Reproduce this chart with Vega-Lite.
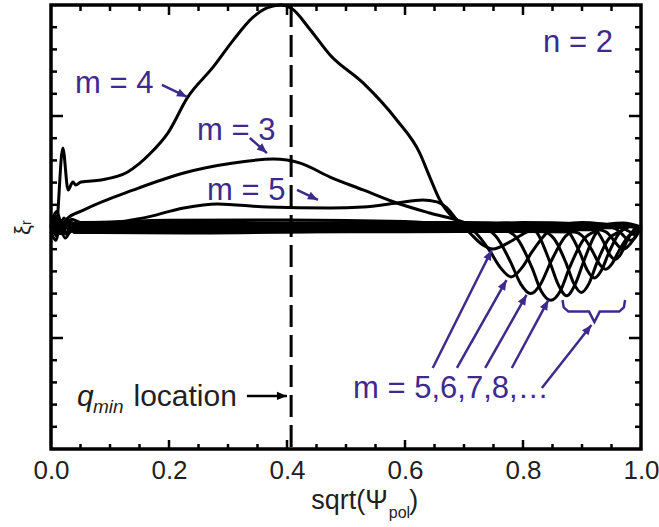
{
"$schema": "https://vega.github.io/schema/vega-lite/v6.json",
"width": 590, "height": 444,
"autosize": {"type": "none"},
"padding": {"left": 51, "top": 5, "right": 18, "bottom": 78},
"background": "white",
"config": {"view": {"stroke": "#000", "strokeWidth": 3.5}, "font": "Liberation Sans", "axis": {"grid": false, "domain": false, "ticks": false, "title": null, "labels": false}},
"datasets": {
"curves": [
{"m":"4","x":0,"y":0},{"m":"4","x":0.008,"y":-0.02},{"m":"4","x":0.02,"y":0.356},{"m":"4","x":0.029,"y":0.167},{"m":"4","x":0.037,"y":0.203},{"m":"4","x":0.042,"y":0.189},{"m":"4","x":0.051,"y":0.203},{"m":"4","x":0.085,"y":0.212},{"m":"4","x":0.13,"y":0.248},{"m":"4","x":0.169,"y":0.333},{"m":"4","x":0.198,"y":0.423},{"m":"4","x":0.232,"y":0.586},{"m":"4","x":0.275,"y":0.721},{"m":"4","x":0.309,"y":0.842},{"m":"4","x":0.343,"y":0.946},{"m":"4","x":0.367,"y":0.988},{"m":"4","x":0.389,"y":1.0},{"m":"4","x":0.408,"y":0.984},{"m":"4","x":0.439,"y":0.89},{"m":"4","x":0.473,"y":0.775},{"m":"4","x":0.529,"y":0.649},{"m":"4","x":0.586,"y":0.482},{"m":"4","x":0.625,"y":0.333},{"m":"4","x":0.642,"y":0.225},{"m":"4","x":0.659,"y":0.122},{"m":"4","x":0.681,"y":0.045},{"m":"4","x":0.698,"y":0.018},{"m":"4","x":0.718,"y":0.003},{"m":"4","x":0.8,"y":0.005},{"m":"4","x":0.9,"y":0.008},{"m":"4","x":1,"y":0},
{"m":"3","x":0,"y":0},{"m":"3","x":0.008,"y":0.04},{"m":"3","x":0.016,"y":-0.02},{"m":"3","x":0.025,"y":0.032},{"m":"3","x":0.056,"y":0.077},{"m":"3","x":0.14,"y":0.167},{"m":"3","x":0.225,"y":0.243},{"m":"3","x":0.309,"y":0.288},{"m":"3","x":0.377,"y":0.306},{"m":"3","x":0.4225,"y":0.288},{"m":"3","x":0.473,"y":0.225},{"m":"3","x":0.529,"y":0.167},{"m":"3","x":0.586,"y":0.108},{"m":"3","x":0.642,"y":0.063},{"m":"3","x":0.698,"y":0.023},{"m":"3","x":0.732,"y":-0.014},{"m":"3","x":0.76,"y":-0.02},{"m":"3","x":0.794,"y":-0.01},{"m":"3","x":0.85,"y":0},{"m":"3","x":0.95,"y":0.005},{"m":"3","x":1,"y":0},
{"m":"5","x":0,"y":0},{"m":"5","x":0.01,"y":-0.03},{"m":"5","x":0.02,"y":0.02},{"m":"5","x":0.03,"y":-0.01},{"m":"5","x":0.045,"y":0.005},{"m":"5","x":0.085,"y":0.014},{"m":"5","x":0.157,"y":0.041},{"m":"5","x":0.225,"y":0.086},{"m":"5","x":0.282,"y":0.104},{"m":"5","x":0.367,"y":0.09},{"m":"5","x":0.473,"y":0.086},{"m":"5","x":0.529,"y":0.09},{"m":"5","x":0.586,"y":0.108},{"m":"5","x":0.63,"y":0.122},{"m":"5","x":0.654,"y":0.113},{"m":"5","x":0.671,"y":0.086},{"m":"5","x":0.688,"y":0.032},{"m":"5","x":0.71,"y":-0.027},{"m":"5","x":0.732,"y":-0.081},{"m":"5","x":0.749,"y":-0.099},{"m":"5","x":0.777,"y":-0.068},{"m":"5","x":0.806,"y":-0.023},{"m":"5","x":0.828,"y":0},{"m":"5","x":0.9,"y":0.01},{"m":"5","x":1,"y":0},
{"m":"6","x":0,"y":0},{"m":"6","x":0.008,"y":0.05},{"m":"6","x":0.016,"y":-0.03},{"m":"6","x":0.025,"y":0.025},{"m":"6","x":0.035,"y":-0.005},{"m":"6","x":0.05,"y":0.01},{"m":"6","x":0.2,"y":0.015},{"m":"6","x":0.45,"y":0.012},{"m":"6","x":0.65,"y":0.01},{"m":"6","x":0.69,"y":0.008},{"m":"6","x":0.717,"y":-0.02},{"m":"6","x":0.744,"y":-0.109},{"m":"6","x":0.762,"y":-0.184},{"m":"6","x":0.78,"y":-0.225},{"m":"6","x":0.798,"y":-0.184},{"m":"6","x":0.816,"y":-0.109},{"m":"6","x":0.843,"y":-0.02},{"m":"6","x":0.87,"y":0.012},{"m":"6","x":0.9,"y":0.02},{"m":"6","x":0.95,"y":0.01},{"m":"6","x":1,"y":0},
{"m":"7","x":0,"y":-0.02},{"m":"7","x":0.008,"y":-0.06},{"m":"7","x":0.017,"y":0.03},{"m":"7","x":0.027,"y":-0.035},{"m":"7","x":0.037,"y":0},{"m":"7","x":0.05,"y":-0.005},{"m":"7","x":0.2,"y":0},{"m":"7","x":0.45,"y":-0.003},{"m":"7","x":0.65,"y":0},{"m":"7","x":0.729,"y":-0.005},{"m":"7","x":0.754,"y":-0.042},{"m":"7","x":0.779,"y":-0.158},{"m":"7","x":0.796,"y":-0.256},{"m":"7","x":0.813,"y":-0.3},{"m":"7","x":0.83,"y":-0.256},{"m":"7","x":0.847,"y":-0.158},{"m":"7","x":0.872,"y":-0.042},{"m":"7","x":0.897,"y":-0.005},{"m":"7","x":0.925,"y":0.015},{"m":"7","x":0.96,"y":0.008},{"m":"7","x":1,"y":0},
{"m":"8","x":0,"y":0.01},{"m":"8","x":0.01,"y":0.07},{"m":"8","x":0.02,"y":-0.01},{"m":"8","x":0.03,"y":0.03},{"m":"8","x":0.045,"y":-0.01},{"m":"8","x":0.2,"y":-0.01},{"m":"8","x":0.45,"y":-0.008},{"m":"8","x":0.7,"y":-0.008},{"m":"8","x":0.767,"y":-0.014},{"m":"8","x":0.791,"y":-0.055},{"m":"8","x":0.815,"y":-0.182},{"m":"8","x":0.831,"y":-0.289},{"m":"8","x":0.847,"y":-0.33},{"m":"8","x":0.863,"y":-0.289},{"m":"8","x":0.879,"y":-0.182},{"m":"8","x":0.903,"y":-0.055},{"m":"8","x":0.927,"y":-0.014},{"m":"8","x":0.955,"y":0.01},{"m":"8","x":1,"y":0},
{"m":"9","x":0,"y":0},{"m":"9","x":0.01,"y":-0.04},{"m":"9","x":0.022,"y":0.04},{"m":"9","x":0.032,"y":-0.015},{"m":"9","x":0.045,"y":0.02},{"m":"9","x":0.2,"y":0.022},{"m":"9","x":0.45,"y":0.018},{"m":"9","x":0.7,"y":0.02},{"m":"9","x":0.802,"y":0.014},{"m":"9","x":0.824,"y":-0.027},{"m":"9","x":0.845,"y":-0.154},{"m":"9","x":0.86,"y":-0.261},{"m":"9","x":0.874,"y":-0.31},{"m":"9","x":0.888,"y":-0.261},{"m":"9","x":0.903,"y":-0.154},{"m":"9","x":0.924,"y":-0.027},{"m":"9","x":0.946,"y":0.014},{"m":"9","x":0.97,"y":0.018},{"m":"9","x":1,"y":0},
{"m":"10","x":0,"y":-0.01},{"m":"10","x":0.012,"y":0.02},{"m":"10","x":0.024,"y":-0.05},{"m":"10","x":0.036,"y":-0.01},{"m":"10","x":0.05,"y":-0.02},{"m":"10","x":0.25,"y":-0.02},{"m":"10","x":0.5,"y":-0.015},{"m":"10","x":0.75,"y":-0.015},{"m":"10","x":0.833,"y":-0.02},{"m":"10","x":0.853,"y":-0.054},{"m":"10","x":0.873,"y":-0.163},{"m":"10","x":0.886,"y":-0.254},{"m":"10","x":0.899,"y":-0.295},{"m":"10","x":0.912,"y":-0.254},{"m":"10","x":0.925,"y":-0.163},{"m":"10","x":0.945,"y":-0.054},{"m":"10","x":0.965,"y":-0.02},{"m":"10","x":0.985,"y":0.005},{"m":"10","x":1,"y":0},
{"m":"11","x":0,"y":0},{"m":"11","x":0.015,"y":-0.02},{"m":"11","x":0.03,"y":0.015},{"m":"11","x":0.05,"y":0.005},{"m":"11","x":0.3,"y":0.005},{"m":"11","x":0.6,"y":0.006},{"m":"11","x":0.8,"y":0.005},{"m":"11","x":0.861,"y":0.001},{"m":"11","x":0.879,"y":-0.028},{"m":"11","x":0.897,"y":-0.119},{"m":"11","x":0.909,"y":-0.195},{"m":"11","x":0.921,"y":-0.23},{"m":"11","x":0.933,"y":-0.195},{"m":"11","x":0.945,"y":-0.119},{"m":"11","x":0.963,"y":-0.028},{"m":"11","x":0.981,"y":0.001},{"m":"11","x":1,"y":0},
{"m":"12","x":0,"y":0},{"m":"12","x":0.01,"y":0.03},{"m":"12","x":0.025,"y":-0.03},{"m":"12","x":0.04,"y":-0.015},{"m":"12","x":0.06,"y":-0.02},{"m":"12","x":0.4,"y":-0.022},{"m":"12","x":0.8,"y":-0.02},{"m":"12","x":0.886,"y":-0.023},{"m":"12","x":0.902,"y":-0.044},{"m":"12","x":0.918,"y":-0.11},{"m":"12","x":0.929,"y":-0.165},{"m":"12","x":0.94,"y":-0.19},{"m":"12","x":0.951,"y":-0.165},{"m":"12","x":0.962,"y":-0.11},{"m":"12","x":0.978,"y":-0.044},{"m":"12","x":0.994,"y":-0.015},{"m":"12","x":1,"y":0},
{"m":"13","x":0,"y":0},{"m":"13","x":0.02,"y":0.02},{"m":"13","x":0.05,"y":0.015},{"m":"13","x":0.4,"y":0.014},{"m":"13","x":0.85,"y":0.012},{"m":"13","x":0.908,"y":0.012},{"m":"13","x":0.922,"y":-0.008},{"m":"13","x":0.937,"y":-0.069},{"m":"13","x":0.946,"y":-0.121},{"m":"13","x":0.956,"y":-0.145},{"m":"13","x":0.966,"y":-0.121},{"m":"13","x":0.975,"y":-0.069},{"m":"13","x":0.99,"y":-0.008},{"m":"13","x":1,"y":0},
{"m":"14","x":0,"y":0},{"m":"14","x":0.018,"y":-0.03},{"m":"14","x":0.04,"y":-0.01},{"m":"14","x":0.5,"y":-0.01},{"m":"14","x":0.9,"y":-0.012},{"m":"14","x":0.928,"y":-0.012},{"m":"14","x":0.941,"y":-0.023},{"m":"14","x":0.953,"y":-0.057},{"m":"14","x":0.962,"y":-0.087},{"m":"14","x":0.97,"y":-0.1},{"m":"14","x":0.978,"y":-0.087},{"m":"14","x":0.987,"y":-0.057},{"m":"14","x":1,"y":0},
{"m":"15","x":0,"y":0},{"m":"15","x":0.5,"y":0},{"m":"15","x":0.946,"y":0},{"m":"15","x":0.957,"y":-0.008},{"m":"15","x":0.968,"y":-0.032},{"m":"15","x":0.975,"y":-0.051},{"m":"15","x":0.982,"y":-0.06},{"m":"15","x":0.989,"y":-0.051},{"m":"15","x":1,"y":0},
{"m":"16","x":0,"y":0},{"m":"16","x":0.5,"y":-0.005},{"m":"16","x":0.966,"y":-0.003},{"m":"16","x":0.978,"y":-0.017},{"m":"16","x":0.99,"y":-0.035},{"m":"16","x":1,"y":0},
{"m":"1","x":0,"y":0},{"m":"1","x":0.01,"y":0.04},{"m":"1","x":0.02,"y":-0.02},{"m":"1","x":0.035,"y":0.035},{"m":"1","x":0.05,"y":0.02},{"m":"1","x":0.2,"y":0.03},{"m":"1","x":0.4,"y":0.032},{"m":"1","x":0.6,"y":0.025},{"m":"1","x":0.7,"y":0.01},{"m":"1","x":0.8,"y":0.02},{"m":"1","x":0.9,"y":0.015},{"m":"1","x":1,"y":0},
{"m":"2","x":0,"y":0},{"m":"2","x":0.012,"y":-0.03},{"m":"2","x":0.025,"y":0.01},{"m":"2","x":0.04,"y":-0.025},{"m":"2","x":0.06,"y":-0.025},{"m":"2","x":0.25,"y":-0.027},{"m":"2","x":0.45,"y":-0.02},{"m":"2","x":0.6,"y":-0.01},{"m":"2","x":0.7,"y":0},{"m":"2","x":0.85,"y":0.01},{"m":"2","x":1,"y":0}
],
"arrows": [
{"x":0.188,"y":0.64,"x2":0.2305,"y2":0.586,"a":115.6},
{"x":0.337,"y":0.401,"x2":0.366,"y2":0.333,"a":131.4},
{"x":0.417,"y":0.167,"x2":0.4525,"y2":0.122,"a":115.5},
{"x":0.647,"y":-0.635,"x2":0.747,"y2":-0.104,"a":26.4},
{"x":0.688,"y":-0.635,"x2":0.772,"y2":-0.239,"a":29.6},
{"x":0.736,"y":-0.635,"x2":0.806,"y2":-0.306,"a":29.7},
{"x":0.781,"y":-0.635,"x2":0.843,"y2":-0.329,"a":28.3},
{"x":0.832,"y":-0.725,"x2":0.916,"y2":-0.441,"a":38.4}
],
"karrow": [{"x":0.332,"y":-0.761,"x2":0.4,"y2":-0.761,"a":90}],
"brace": [
{"x":0.867,"y":-0.329},{"x":0.869,"y":-0.362},{"x":0.877,"y":-0.381},{"x":0.912,"y":-0.381},{"x":0.921,"y":-0.428},{"x":0.93,"y":-0.381},{"x":0.963,"y":-0.381},{"x":0.971,"y":-0.362},{"x":0.973,"y":-0.329}
],
"ptext": [
{"t":"m = 4","x":0.0407,"y":0.604},
{"t":"m = 3","x":0.2475,"y":0.392},
{"t":"m = 5","x":0.2644,"y":0.122},
{"t":"n = 2","x":0.834,"y":0.788},
{"t":"m = 5,6,7,8,…","x":0.512,"y":-0.77}
],
"xmaj": [{"v":0.2},{"v":0.4},{"v":0.6},{"v":0.8}],
"xmin": [{"v":0.05},{"v":0.1},{"v":0.15},{"v":0.25},{"v":0.3},{"v":0.35},{"v":0.45},{"v":0.5},{"v":0.55},{"v":0.65},{"v":0.7},{"v":0.75},{"v":0.85},{"v":0.9},{"v":0.95}],
"ymaj": [{"v":-0.5},{"v":0.5}],
"ymin": [{"v":-0.9},{"v":-0.8},{"v":-0.7},{"v":-0.6},{"v":-0.4},{"v":-0.3},{"v":-0.2},{"v":-0.1},{"v":0},{"v":0.1},{"v":0.2},{"v":0.3},{"v":0.4},{"v":0.6},{"v":0.7},{"v":0.8},{"v":0.9}]
},
"layer": [
{"data": {"name": "curves"},
 "mark": {"type": "line", "interpolate": "monotone", "color": "#000", "strokeWidth": 3},
 "encoding": {
  "x": {"field": "x", "type": "quantitative", "scale": {"domain": [0, 1], "nice": false, "zero": false},
        "axis": {"orient": "bottom", "values": [0, 0.2, 0.4, 0.6, 0.8, 1], "format": ".1f", "labels": true, "ticks": false, "labelFlush": false, "labelPadding": 8, "labelFontSize": 26, "labelColor": "#231f20", "labelFont": "Liberation Sans"}},
  "y": {"field": "y", "type": "quantitative", "scale": {"domain": [-1, 1], "nice": false, "zero": false},
        "axis": {"orient": "left", "values": [-0.5, 0.5], "ticks": false, "title": "ξᵣ", "titleFontSize": 22, "titleFontWeight": "normal", "titleColor": "#231f20", "titlePadding": 17, "titleFont": "Liberation Sans"}},
  "detail": {"field": "m", "type": "nominal"}
 }},
{"data": {"name": "xmaj"},
 "mark": {"type": "tick", "orient": "vertical", "size": 9, "thickness": 2.5, "yOffset": -4.5, "color": "#000", "opacity": 1},
 "encoding": {"x": {"field": "v", "type": "quantitative", "axis": null}, "y": {"datum": -1, "type": "quantitative", "axis": null}}},
{"data": {"name": "xmin"},
 "mark": {"type": "tick", "orient": "vertical", "size": 5, "thickness": 2.5, "yOffset": -2.5, "color": "#000", "opacity": 1},
 "encoding": {"x": {"field": "v", "type": "quantitative", "axis": null}, "y": {"datum": -1, "type": "quantitative", "axis": null}}},
{"data": {"name": "xmaj"},
 "mark": {"type": "tick", "orient": "vertical", "size": 10, "thickness": 2.5, "yOffset": 5, "color": "#000", "opacity": 1},
 "encoding": {"x": {"field": "v", "type": "quantitative", "axis": null}, "y": {"datum": 1, "type": "quantitative", "axis": null}}},
{"data": {"name": "xmin"},
 "mark": {"type": "tick", "orient": "vertical", "size": 6, "thickness": 2.5, "yOffset": 3, "color": "#000", "opacity": 1},
 "encoding": {"x": {"field": "v", "type": "quantitative", "axis": null}, "y": {"datum": 1, "type": "quantitative", "axis": null}}},
{"data": {"name": "ymaj"},
 "mark": {"type": "tick", "orient": "horizontal", "size": 12, "thickness": 2.5, "xOffset": 6, "color": "#000", "opacity": 1},
 "encoding": {"y": {"field": "v", "type": "quantitative", "axis": null}, "x": {"datum": 0, "type": "quantitative", "axis": null}}},
{"data": {"name": "ymin"},
 "mark": {"type": "tick", "orient": "horizontal", "size": 6, "thickness": 2.5, "xOffset": 3, "color": "#000", "opacity": 1},
 "encoding": {"y": {"field": "v", "type": "quantitative", "axis": null}, "x": {"datum": 0, "type": "quantitative", "axis": null}}},
{"data": {"name": "ymaj"},
 "mark": {"type": "tick", "orient": "horizontal", "size": 12, "thickness": 2.5, "xOffset": -6, "color": "#000", "opacity": 1},
 "encoding": {"y": {"field": "v", "type": "quantitative", "axis": null}, "x": {"datum": 1, "type": "quantitative", "axis": null}}},
{"data": {"name": "ymin"},
 "mark": {"type": "tick", "orient": "horizontal", "size": 6, "thickness": 2.5, "xOffset": -3, "color": "#000", "opacity": 1},
 "encoding": {"y": {"field": "v", "type": "quantitative", "axis": null}, "x": {"datum": 1, "type": "quantitative", "axis": null}}},
{"data": {"values": [{"x": 0.407}]},
 "mark": {"type": "rule", "strokeDash": [22, 8], "strokeWidth": 3, "color": "#000"},
 "encoding": {"x": {"field": "x", "type": "quantitative", "axis": null}}},
{"data": {"name": "arrows"},
 "mark": {"type": "rule", "strokeWidth": 2.5, "color": "#3e2a8c"},
 "encoding": {
  "x": {"field": "x", "type": "quantitative", "axis": null},
  "y": {"field": "y", "type": "quantitative", "axis": null},
  "x2": {"field": "x2"}, "y2": {"field": "y2"}}},
{"data": {"name": "arrows"},
 "mark": {"type": "point", "filled": true, "opacity": 1, "shape": "M0,0L1,2.4L-1,2.4Z", "size": 70, "color": "#3e2a8c"},
 "encoding": {
  "x": {"field": "x2", "type": "quantitative", "axis": null},
  "y": {"field": "y2", "type": "quantitative", "axis": null},
  "angle": {"field": "a", "type": "quantitative", "scale": null}}},
{"data": {"name": "brace"},
 "mark": {"type": "line", "strokeWidth": 2.5, "color": "#3e2a8c"},
 "encoding": {
  "x": {"field": "x", "type": "quantitative", "axis": null},
  "y": {"field": "y", "type": "quantitative", "axis": null}}},
{"data": {"name": "karrow"},
 "mark": {"type": "rule", "strokeWidth": 2.5, "color": "#000"},
 "encoding": {
  "x": {"field": "x", "type": "quantitative", "axis": null},
  "y": {"field": "y", "type": "quantitative", "axis": null},
  "x2": {"field": "x2"}, "y2": {"field": "y2"}}},
{"data": {"name": "karrow"},
 "mark": {"type": "point", "filled": true, "opacity": 1, "shape": "M0,0L1,2.4L-1,2.4Z", "size": 70, "color": "#000"},
 "encoding": {
  "x": {"field": "x2", "type": "quantitative", "axis": null},
  "y": {"field": "y2", "type": "quantitative", "axis": null},
  "angle": {"field": "a", "type": "quantitative", "scale": null}}},
{"data": {"name": "ptext"},
 "mark": {"type": "text", "font": "Liberation Sans", "fontSize": 31, "color": "#3e2a8c", "align": "left", "baseline": "alphabetic"},
 "encoding": {
  "x": {"field": "x", "type": "quantitative", "axis": null},
  "y": {"field": "y", "type": "quantitative", "axis": null},
  "text": {"field": "t"}}},
{"data": {"values": [{"t": "location", "x": 0.1398, "y": -0.8045}]},
 "mark": {"type": "text", "font": "Liberation Sans", "fontSize": 30, "color": "#231f20", "align": "left", "baseline": "alphabetic"},
 "encoding": {"x": {"field": "x", "type": "quantitative", "axis": null}, "y": {"field": "y", "type": "quantitative", "axis": null}, "text": {"field": "t"}}},
{"data": {"values": [{"t": "q", "x": 0.044, "y": -0.8045}]},
 "mark": {"type": "text", "font": "Liberation Sans", "fontStyle": "italic", "fontSize": 30, "color": "#231f20", "align": "left", "baseline": "alphabetic"},
 "encoding": {"x": {"field": "x", "type": "quantitative", "axis": null}, "y": {"field": "y", "type": "quantitative", "axis": null}, "text": {"field": "t"}}},
{"data": {"values": [{"t": "min", "x": 0.0712, "y": -0.838}]},
 "mark": {"type": "text", "font": "Liberation Sans", "fontStyle": "italic", "fontSize": 19, "color": "#231f20", "align": "left", "baseline": "alphabetic"},
 "encoding": {"x": {"field": "x", "type": "quantitative", "axis": null}, "y": {"field": "y", "type": "quantitative", "axis": null}, "text": {"field": "t"}}},
{"data": {"values": [{"t": "sqrt(Ψ", "x": 0.571, "y": -1.27}]},
 "mark": {"type": "text", "font": "Liberation Sans", "fontSize": 27, "color": "#231f20", "align": "right", "baseline": "alphabetic"},
 "encoding": {"x": {"field": "x", "type": "quantitative", "axis": null}, "y": {"field": "y", "type": "quantitative", "axis": null}, "text": {"field": "t"}}},
{"data": {"values": [{"t": "pol", "x": 0.5725, "y": -1.311}]},
 "mark": {"type": "text", "font": "Liberation Sans", "fontSize": 16, "color": "#231f20", "align": "left", "baseline": "alphabetic"},
 "encoding": {"x": {"field": "x", "type": "quantitative", "axis": null}, "y": {"field": "y", "type": "quantitative", "axis": null}, "text": {"field": "t"}}},
{"data": {"values": [{"t": ")", "x": 0.607, "y": -1.27}]},
 "mark": {"type": "text", "font": "Liberation Sans", "fontSize": 27, "color": "#231f20", "align": "left", "baseline": "alphabetic"},
 "encoding": {"x": {"field": "x", "type": "quantitative", "axis": null}, "y": {"field": "y", "type": "quantitative", "axis": null}, "text": {"field": "t"}}}
],
"resolve": {"axis": {"x": "independent", "y": "independent"}}
}
